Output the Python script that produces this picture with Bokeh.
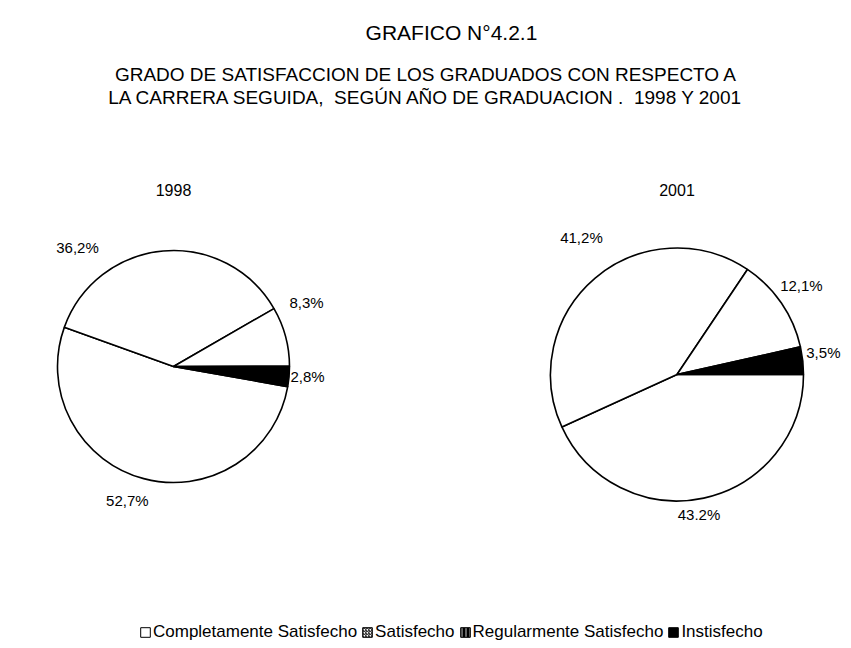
import math
from bokeh.plotting import figure
from bokeh.layouts import column, row
from bokeh.models import Range1d, ColumnDataSource, Legend, LegendItem
from bokeh.core.properties import value
from bokeh.embed import file_html
from bokeh.resources import INLINE

# ---------------- data ----------------
categories = ["Completamente Satisfecho", "Satisfecho", "Regularmente Satisfecho", "Instisfecho"]
years = ["1998", "2001"]
values_1998 = [52.7, 36.2, 8.3, 2.8]
values_2001 = [43.2, 41.2, 12.1, 3.5]
title_text = "GRAFICO N°4.2.1"
subtitle_1 = "GRADO DE SATISFACCION DE LOS GRADUADOS CON RESPECTO A"
subtitle_2 = "LA CARRERA SEGUIDA,\u00a0 SEGÚN AÑO DE GRADUACION .\u00a0 1998 Y 2001"

# ---------------- style / layout ----------------
FONT = "Liberation Sans"
slice_fill = ["white", "white", "white", "black"]
first_slice_angle = {"1998": 100, "2001": 90}  # Excel style: degrees clockwise from 12 o'clock
W = 851


def blank(w, h):
    p = figure(width=w, height=h, x_range=Range1d(0, w), y_range=Range1d(0, h),
               output_backend="svg", toolbar_location=None, min_border=0,
               x_axis_location=None, y_axis_location=None)
    p.grid.visible = False
    p.outline_line_color = None
    p.background_fill_color = "white"
    p.border_fill_color = "white"
    return p


# ---- titles ----
tfig = blank(W, 168)
tfig.text(x=[451], y=[136], text=[title_text], text_font=value(FONT), text_font_size="21px",
          text_align="center", text_baseline="middle", text_color="black")
tfig.text(x=[425.5, 426], y=[94, 71], text=[subtitle_1, subtitle_2], text_font=value(FONT),
          text_font_size="19px", text_align="center", text_baseline="middle", text_color="black")


def pie_fig(year, vals, w, h, cx, cy, r, lab_ang, lab_dist):
    p = blank(w, h)
    total = sum(vals)
    a = math.radians(90 - first_slice_angle[year])
    starts, ends = [], []
    for v in vals:
        a2 = a - v / total * 2 * math.pi
        starts.append(a2)
        ends.append(a)
        a = a2
    src = ColumnDataSource(dict(start=starts, end=ends, fill=slice_fill, cat=categories))
    p.wedge(x=cx, y=cy, radius=r, start_angle="start", end_angle="end", fill_color="fill",
            line_color="black", line_width=1.6, source=src)
    labels = [f"{v:.1f}".replace(".", ",") + "%" for v in vals]
    lx = [cx + d * math.cos(math.radians(t)) for t, d in zip(lab_ang, lab_dist)]
    ly = [cy + d * math.sin(math.radians(t)) for t, d in zip(lab_ang, lab_dist)]
    p.text(x=lx, y=ly, text=labels, text_font=value(FONT), text_font_size="15px",
           text_align="center", text_baseline="middle", text_color="black")
    p.text(x=[cx], y=[331], text=[year], text_font=value(FONT), text_font_size="16px",
           text_align="center", text_baseline="middle", text_color="black")
    return p


p1 = pie_fig("1998", values_1998, 425, 352, 173, 154, 116,
             [-109.0, 128.9, 25.7, -4.3], [141.7, 152.9, 147.6, 134.4])
p2 = pie_fig("2001", values_2001, 426, 352, 251.5, 146, 126.5,
             [-81.1, 124.9, 35.6, 8.5], [142.0, 167.0, 153.0, 148.0])

# ---- legend ----
leg = blank(W, 128)
leg_src = ColumnDataSource(dict(x=[-1000], y=[-1000]))  # legend-only renderers, kept off-frame
styles = [
    dict(fill_color="white"),
    dict(fill_color="white", hatch_pattern="/", hatch_color="black", hatch_scale=3, hatch_weight=1),
    dict(fill_color="black", hatch_pattern="|", hatch_color="#cccccc", hatch_scale=4, hatch_weight=1),
    dict(fill_color="black"),
]
items = []
for cat, st in zip(categories, styles):
    rr = leg.rect(x="x", y="y", width=1, height=1, source=leg_src, line_color="black", line_width=1, **st)
    items.append(LegendItem(label=cat, renderers=[rr]))
legend = Legend(items=items, orientation="horizontal", location=(139, 6),
                glyph_width=12, glyph_height=12, label_standoff=2, spacing=4,
                padding=0, margin=0, border_line_color=None, background_fill_alpha=0,
                label_text_font=FONT, label_text_font_size="17px", label_height=16,
                label_text_color="black")
leg.add_layout(legend)

layout = column(tfig, row(p1, p2), leg)

open("out.html", "w").write(file_html(layout, INLINE))
